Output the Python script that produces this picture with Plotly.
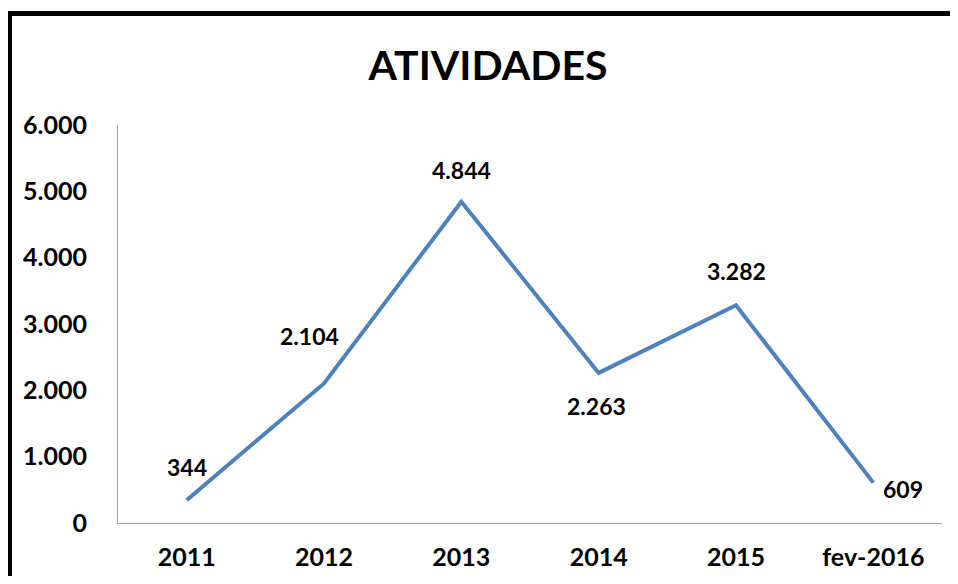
import plotly.graph_objects as go

# data
categories = ["2011", "2012", "2013", "2014", "2015", "fev-2016"]
atividades = [344, 2104, 4844, 2263, 3282, 609]
y_ticks = [0, 1000, 2000, 3000, 4000, 5000, 6000]

# label offsets in pixels (x, y) relative to each point
label_shifts = [(0, 33), (-15, 47), (0, 32), (-2, -33), (0, 34), (30, -6)]

LINE_BLUE = "#4F81BD"
AXIS_GRAY = "#A0A0A0"
FONT = "Lato, 'Open Sans', sans-serif"

# the html body has an 8px margin, so the figure is 16px smaller than the window
W, H = 942, 568
PL, PR, PT, PB = 110, 934, 117, 515   # plot area in figure pixels


def fmt_pt(v):
    # Portuguese style thousands separator
    return f"{v:,}".replace(",", ".")


fig = go.Figure()

fig.add_trace(
    go.Scatter(
        x=categories,
        y=atividades,
        mode="lines",
        line=dict(color=LINE_BLUE, width=4),
        hoverinfo="x+y",
        showlegend=False,
    )
)

for i, (val, (dx, dy)) in enumerate(zip(atividades, label_shifts)):
    fig.add_annotation(
        x=i, y=val,
        xref="x", yref="y",
        text=f"<b>{fmt_pt(val)}</b>",
        showarrow=False,
        xshift=dx, yshift=dy,
        font=dict(family=FONT, size=23, color="black"),
    )

# black frame: only the left and top sides are visible in the picture
pw, ph = PR - PL, PB - PT
fx0 = (1.5 - PL) / pw
fy1 = (PB - 5.5) / ph
fig.add_shape(
    type="line", xref="paper", yref="paper",
    x0=fx0, x1=fx0, y0=(PB - H) / ph, y1=fy1 + 2.5 / ph,
    line=dict(color="black", width=5),
)
fig.add_shape(
    type="line", xref="paper", yref="paper",
    x0=fx0 - 2.5 / pw, x1=(W - PL) / pw, y0=fy1, y1=fy1,
    line=dict(color="black", width=5),
)

fig.update_layout(
    width=W,
    height=H,
    margin=dict(l=PL, r=W - PR, t=PT, b=H - PB, autoexpand=False),
    paper_bgcolor="white",
    plot_bgcolor="white",
    separators=",.",
    font=dict(family=FONT, size=25, color="black"),
    title=dict(
        text="<b>ATIVIDADES</b>",
        font=dict(family=FONT, size=41, color="black"),
        x=(480 - PL) / pw, xref="paper", xanchor="center",
        y=1 - 58 / H, yref="container", yanchor="middle",
    ),
)

fig.update_xaxes(
    type="category",
    range=[-0.5, len(categories) - 0.5],
    automargin=False,
    showline=True, linecolor=AXIS_GRAY, linewidth=1,
    showgrid=False, zeroline=False,
    ticks="", ticklabelstandoff=12,
    tickfont=dict(family=FONT, size=25, color="black"),
    tickprefix="<b>", ticksuffix="</b>",
)

fig.update_yaxes(
    range=[0, 6000],
    tickvals=y_ticks,
    ticktext=[f"<b>{fmt_pt(t)}</b>" for t in y_ticks],
    automargin=False,
    showline=True, linecolor=AXIS_GRAY, linewidth=1,
    showgrid=False, zeroline=False,
    ticks="", ticklabelstandoff=25,
    tickfont=dict(family=FONT, size=25, color="black"),
)

# the page is a few px taller than the window; hide the scrollbar
fig.write_html("out.html", post_script="document.documentElement.style.overflow='hidden';")
